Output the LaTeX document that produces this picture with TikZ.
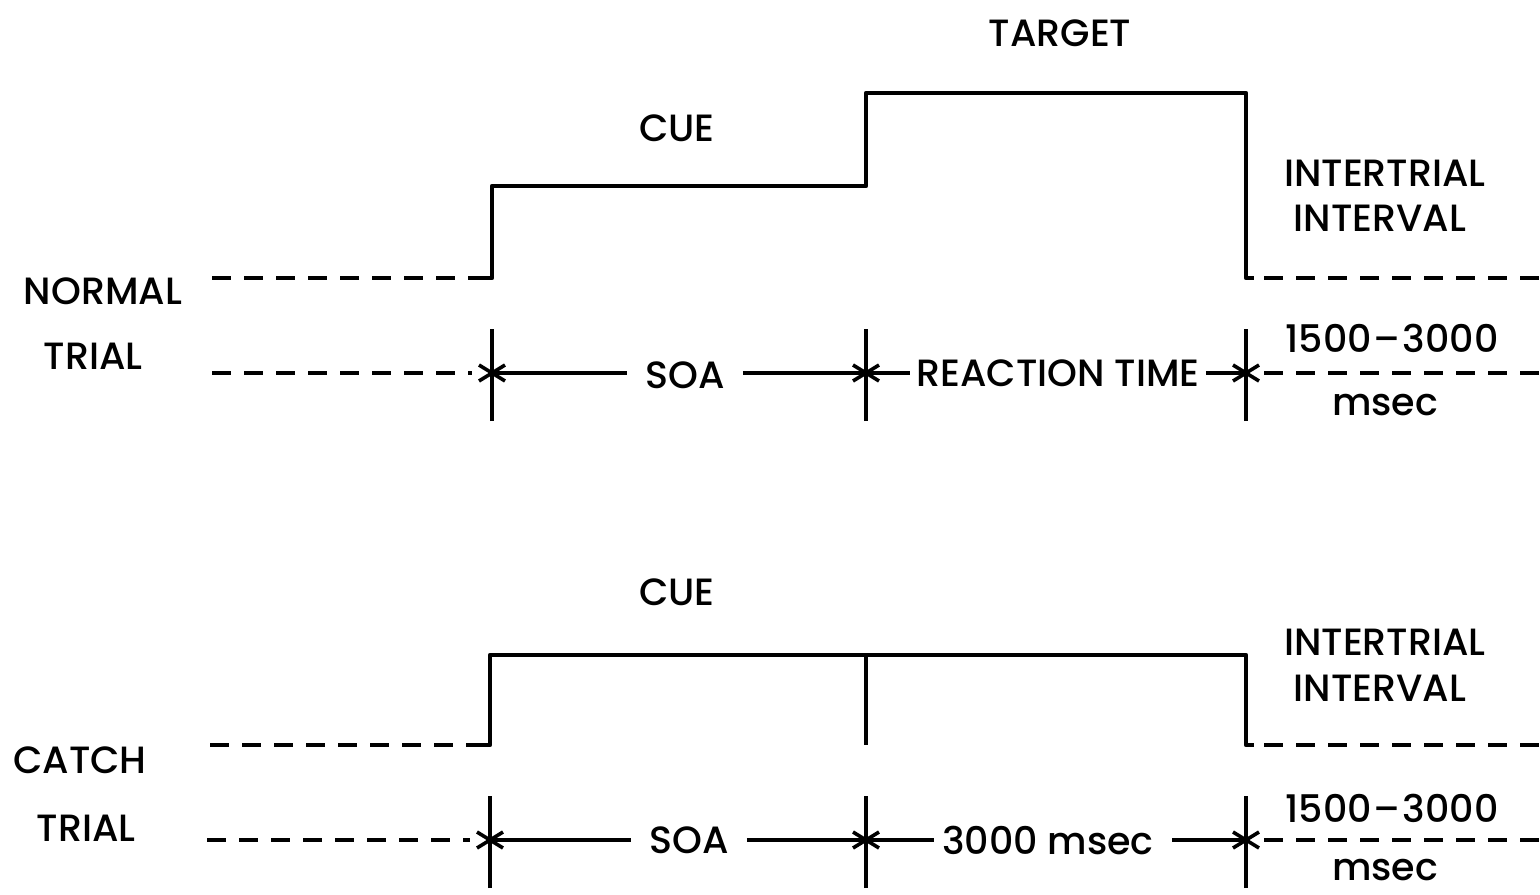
\documentclass[tikz,border=0pt]{standalone}
\usepackage{fontspec}
\setmainfont{Poppins Medium}
\begin{document}
\begin{tikzpicture}[x=0.5pt,y=-0.5pt,line width=2.3pt,
  lbl/.style={font=\fontsize{19}{21}\selectfont, inner sep=0pt, anchor=center},
  dashln/.style={dash pattern=on 9.5pt off 6.5pt},
  barb/.style={line width=1.8pt}]
\useasboundingbox (0,0) rectangle (1540,894);
% ---------------- NORMAL TRIAL ----------------
\coordinate (nb0) at (212,278);
\coordinate (nb1) at (492,278);
\coordinate (nc0) at (492,186);
\coordinate (nc1) at (866,186);
\coordinate (nt0) at (866,93);
\coordinate (nt1) at (1246,93);
\coordinate (ne0) at (1246,278);
\coordinate (ne1) at (1540,278);
\draw[dashln] (nb0) -- (485,278);
\draw[line join=round] (484,278) -- (nb1) -- (nc0) -- (nc1) -- (nt0) -- (nt1) -- (ne0) -- (1254,278);
\draw[dashln] (1264,278) -- (ne1);

\node[lbl] (target) at (1060,33) {TARGET};
\node[lbl] (cue1) at (677,128) {CUE};
\node[lbl] (iti1a) at (1385,173) {INTERTRIAL};
\node[lbl] (iti1b) at (1380,218) {INTERVAL};
\node[lbl] (normal) at (103,291) {NORMAL};
\node[lbl] (trial1) at (93,356) {TRIAL};

% timeline
\coordinate (nk1) at (492,373);
\coordinate (nk2) at (866,373);
\coordinate (nk3) at (1246,373);
\foreach \c in {nk1,nk2,nk3} {
  \draw ([yshift=-24pt]\c) -- ([yshift=22pt]\c);
  \draw[barb] ([shift={(-13,-8)}]\c) -- ([shift={(13,8)}]\c);
  \draw[barb] ([shift={(-13,8)}]\c) -- ([shift={(13,-8)}]\c);
}
\draw[dashln] (212,373) -- (472,373);
\node[lbl] (soa1) at (685,375) {SOA};
\node[lbl] (rt) at (1058,373) {REACTION TIME};
\draw (nk1) -- ([xshift=-8pt]nk1 -| soa1.west);
\draw ([xshift=8pt]nk2 -| soa1.east) -- (nk2);
\draw (nk2) -- ([xshift=-2pt]nk2 -| rt.west);
\draw ([xshift=2pt]nk3 -| rt.east) -- (nk3);
\draw[dashln] (1264,373) -- (1540,373);
\node[lbl] (r1) at (1392,338) {1500{\kern1pt}–{\kern1pt}3000};
\node[lbl] (m1) at (1385,405) {msec};

% ---------------- CATCH TRIAL ----------------
\coordinate (cb0) at (210,745);
\coordinate (cb1) at (490,745);
\coordinate (cc0) at (490,655);
\coordinate (cc1) at (1246,655);
\coordinate (ce0) at (1246,745);
\coordinate (ce1) at (1540,745);
\coordinate (cm0) at (866,655);
\coordinate (cm1) at (866,745);
\draw[dashln] (cb0) -- (483,745);
\draw[line join=round] (482,745) -- (cb1) -- (cc0) -- (cc1) -- (ce0) -- (1254,745);
\draw[dashln] (1264,745) -- (ce1);
\draw (cm0) -- (cm1);

\node[lbl] (cue2) at (677,592) {CUE};
\node[lbl] (iti2a) at (1385,642) {INTERTRIAL};
\node[lbl] (iti2b) at (1380,688) {INTERVAL};
\node[lbl] (catch) at (80,760) {CATCH};
\node[lbl] (trial2) at (86,828) {TRIAL};

\coordinate (ck1) at (490,840);
\coordinate (ck2) at (866,840);
\coordinate (ck3) at (1246,840);
\foreach \c in {ck1,ck2,ck3} {
  \draw ([yshift=-24pt]\c) -- ([yshift=22pt]\c);
  \draw[barb] ([shift={(-13,-8)}]\c) -- ([shift={(13,8)}]\c);
  \draw[barb] ([shift={(-13,8)}]\c) -- ([shift={(13,-8)}]\c);
}
\draw[dashln] (207,840) -- (470,840);
\node[lbl] (soa2) at (689,840) {SOA};
\node[lbl] (tms) at (1048,840) {3000 msec};
\draw (ck1) -- ([xshift=-8pt]ck1 -| soa2.west);
\draw ([xshift=8pt]ck2 -| soa2.east) -- (ck2);
\draw (ck2) -- ([xshift=-3pt]ck2 -| tms.west);
\draw ([xshift=8pt]ck3 -| tms.east) -- (ck3);
\draw[dashln] (1264,840) -- (1540,840);
\node[lbl] (r2) at (1392,808) {1500{\kern1pt}–{\kern1pt}3000};
\node[lbl] (m2) at (1385,870) {msec};
\end{tikzpicture}
\end{document}
